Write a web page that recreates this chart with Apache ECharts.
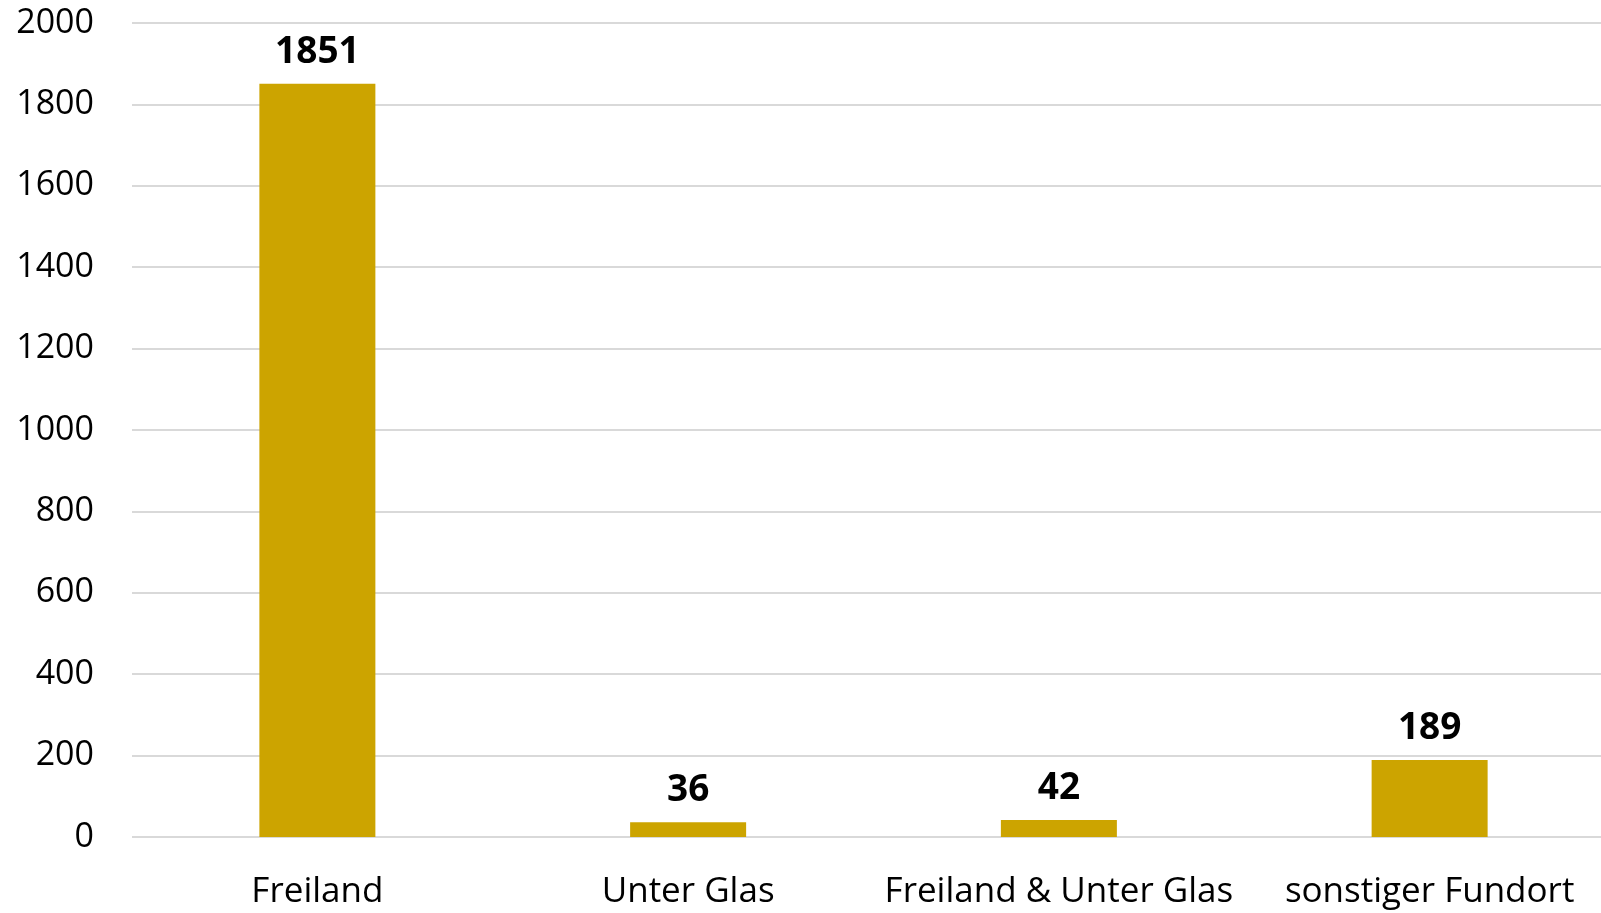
<!DOCTYPE html>
<html>
<head>
<meta charset="utf-8">
<script src="https://cdn.jsdelivr.net/npm/echarts@6/dist/echarts.min.js"></script>
<style>
  html, body { margin: 0; padding: 0; background: #fff; }
  #chart { width: 1601px; height: 913px; }
</style>
</head>
<body>
<div id="chart"></div>
<script>
const categories = ["Freiland", "Unter Glas", "Freiland & Unter Glas", "sonstiger Fundort"];
const counts = [1851, 36, 42, 189];
const yTicks = [0, 200, 400, 600, 800, 1000, 1200, 1400, 1600, 1800, 2000];

let chart = echarts.init(document.getElementById("chart"));
let option = {
  animation: false,
  textStyle: { fontFamily: "Open Sans" },
  grid: {
    left: 132,
    width: 1483,
    top: 23,
    bottom: 76,
    outerBoundsMode: "none",
    containLabel: false,
  },
  xAxis: {
    type: "category",
    data: categories,
    axisLine: { show: false },
    axisTick: { show: false },
    axisLabel: {
      color: "#000",
      fontSize: 35,
      margin: 38,
      interval: 0,
    },
  },
  yAxis: {
    type: "value",
    min: yTicks[0],
    max: yTicks[yTicks.length - 1],
    interval: 200,
    axisLabel: {
      color: "#000",
      fontSize: 34,
      margin: 38,
      formatter: (v) => String(v),
    },
    splitLine: { lineStyle: { color: "#d9d9d9", width: 2 } },
  },
  series: [
    {
      type: "bar",
      data: counts,
      barWidth: 116,
      itemStyle: { color: "#CCA400" },
      label: {
        show: true,
        position: "top",
        distance: 13,
        color: "#000",
        fontWeight: "bold",
        fontSize: 37,
      },
    },
  ],
};
chart.setOption(option);
</script>
</body>
</html>
